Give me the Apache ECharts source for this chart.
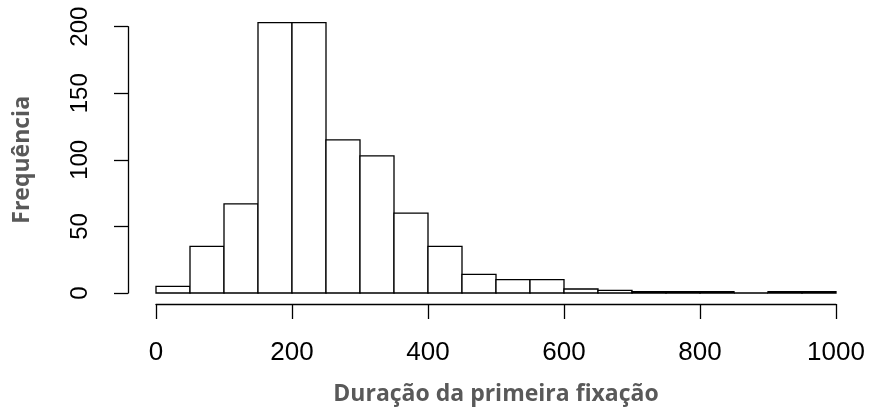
<!DOCTYPE html>
<html>
<head>
<meta charset="utf-8">
<script src="https://cdn.jsdelivr.net/npm/echarts@6/dist/echarts.min.js"></script>
<style>html,body{margin:0;padding:0;background:#fff}#c{width:869px;height:416px}</style>
</head>
<body>
<div id="c"></div>
<script>
const binStart = [0,50,100,150,200,250,300,350,400,450,500,550,600,650,700,750,800,850,900,950];
const binWidth = 50;
const counts = [5,35,67,203,203,115,103,60,35,14,10,10,3,2,1,1,1,0,1,1];
const xTicks = [0,200,400,600,800,1000];
const yTicks = [0,50,100,150,200];
const xTitle = 'Duração da primeira fixação';
const yTitle = 'Frequência';

const chart = echarts.init(document.getElementById('c'), null, {renderer:'canvas'});
const data = binStart.map((s,i)=>[s, s+binWidth, counts[i]]);
const pxPerUnit = (293-26.7)/200;
const yMax0 = 210;
const top0 = 293 - yMax0*pxPerUnit;
const axisColor = '#000';
chart.setOption({
  animation:false,
  grid:[
    {left:156, right:33, top:top0, bottom:123},
    {left:156, right:33, top:26.7, bottom:123}
  ],
  xAxis:[
    {gridIndex:0, type:'value', min:0, max:1000, interval:200, offset:11,
     axisLine:{onZero:false, lineStyle:{color:axisColor,width:1.3}},
     axisTick:{length:15, lineStyle:{color:axisColor,width:1.3}},
     splitLine:{show:false},
     axisLabel:{fontFamily:'Liberation Sans', fontSize:26, color:'#000', margin:36,
       formatter:v=>xTicks.includes(v)?String(v):''},
     name:xTitle, nameLocation:'middle', nameGap:79,
     nameTextStyle:{fontFamily:'Open Sans', fontWeight:'bold', fontSize:23, color:'#595959'}
    },
    {gridIndex:1, type:'value', min:0, max:1000, show:false}
  ],
  yAxis:[
    {gridIndex:0, type:'value', min:0, max:yMax0, show:false},
    {gridIndex:1, type:'value', min:0, max:200, interval:50, offset:28,
     axisLine:{show:true, onZero:false, lineStyle:{color:axisColor,width:1.3}},
     axisTick:{show:true, length:14, lineStyle:{color:axisColor,width:1.3}},
     splitLine:{show:false},
     axisLabel:{fontFamily:'Liberation Sans', fontSize:24, color:'#000', rotate:90, margin:36,
       formatter:v=>yTicks.includes(v)?String(v):''},
     name:yTitle, nameLocation:'middle', nameGap:94, nameRotate:90,
     nameTextStyle:{fontFamily:'Open Sans', fontWeight:'bold', fontSize:23, color:'#595959'}
    }
  ],
  series:[{
    type:'custom', xAxisIndex:0, yAxisIndex:0, data:data,
    renderItem:(params, api)=>{
      const p0 = api.coord([api.value(0), api.value(2)]);
      const p1 = api.coord([api.value(1), 0]);
      return {type:'rect', shape:{x:p0[0], y:p0[1], width:p1[0]-p0[0], height:p1[1]-p0[1]},
        style:{fill:'#fff', stroke:'#000', lineWidth:1.3}};
    }
  }]
});
</script>
</body>
</html>
